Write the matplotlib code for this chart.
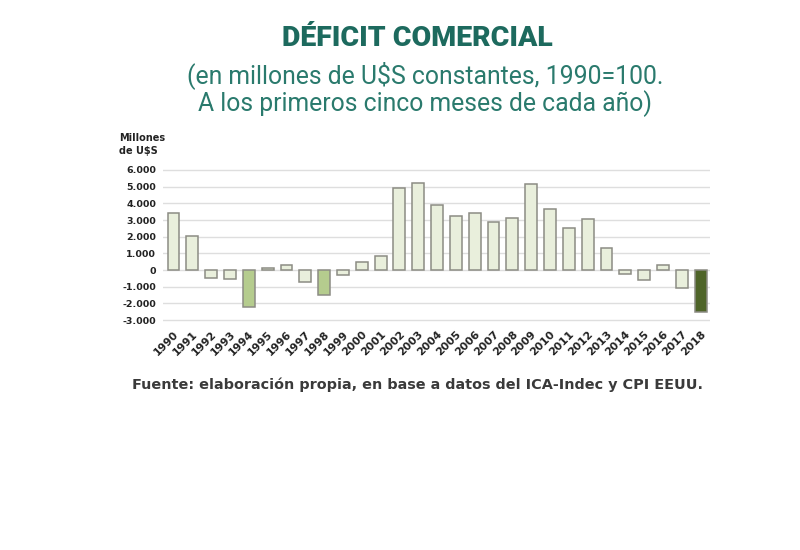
import matplotlib
matplotlib.use("Agg")
from matplotlib import pyplot as plt

years = [str(y) for y in range(1990, 2019)]
deficit = [3400, 2050, -480, -520, -2200, 150, 300, -700, -1500, -300,
           500, 840, 4900, 5240, 3900, 3240, 3440, 2880, 3100, 5140,
           3640, 2520, 3080, 1320, -250, -620, 280, -1080, -2500]
yticks = [-3000, -2000, -1000, 0, 1000, 2000, 3000, 4000, 5000, 6000]
ytick_labels = ["-3.000", "-2.000", "-1.000", "0", "1.000", "2.000",
                "3.000", "4.000", "5.000", "6.000"]

light = "#e9efdc"
mid = "#b5cc8e"
dark = "#4e6428"
colors = [light] * len(years)
colors[years.index("1994")] = mid
colors[years.index("1998")] = mid
colors[years.index("2018")] = dark

fig = plt.figure(figsize=(8, 5.5), dpi=100)
ax = fig.add_axes([0.204, 0.415, 0.6835, 0.279])

ax.bar(range(len(years)), deficit, width=0.63, color=colors,
       edgecolor="#8c8c84", linewidth=1.1, zorder=3)
ax.set_xlim(-0.55, len(years) - 0.5)
ax.set_ylim(-3100, 6100)
ax.set_yticks(yticks)
ax.set_yticklabels(ytick_labels, fontsize=6.8, fontweight="bold", color="#222222")
ax.set_xticks(range(len(years)))
ax.set_xticklabels(years, rotation=45, ha="right", rotation_mode="anchor",
                   fontsize=7.8, fontweight="bold", color="#222222")
ax.tick_params(length=0, pad=5)
ax.grid(axis="y", color="#dedede", linewidth=1, zorder=0)
for s in ax.spines.values():
    s.set_visible(False)

fig.text(0.149, 0.758, "Millones\nde U$S", fontsize=7, fontweight="bold",
         color="#222222", ha="left", va="top", linespacing=1.35)

fig.text(0.522, 0.93, "DÉFICIT COMERCIAL", fontsize=20.5, fontweight="heavy",
         family="Roboto", color="#1d6a5e", ha="center", va="center")
fig.text(0.531, 0.863, "(en millones de U$S constantes, 1990=100.",
         fontsize=17.8, family="Roboto", color="#2a7a6d", ha="center", va="center")
fig.text(0.531, 0.812, "A los primeros cinco meses de cada año)",
         fontsize=17.8, family="Roboto", color="#2a7a6d", ha="center", va="center")

fig.text(0.522, 0.3, "Fuente: elaboración propia, en base a datos del ICA-Indec y CPI EEUU.",
         fontsize=10.4, fontweight="bold", color="#3a3a3a", ha="center", va="center")

fig.savefig("out.png", dpi=100, facecolor="white")
